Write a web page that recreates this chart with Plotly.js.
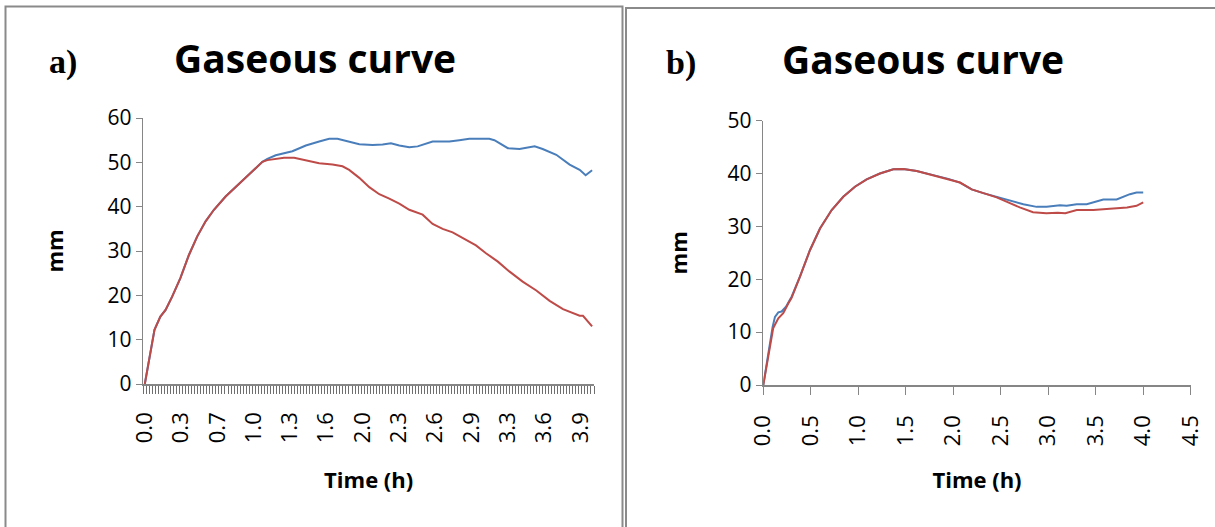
<!DOCTYPE html>
<html>
<head>
<meta charset="utf-8">
<script src="https://cdn.plot.ly/plotly-3.0.1.min.js"></script>
<style>html,body{margin:0;padding:0;background:#fff;}#chart{width:1215px;height:527px;}</style>
</head>
<body>
<div id="chart"></div>
<script>
// ---- Data (a) ----
const timeA_blue = [0, 0.087, 0.14, 0.187, 0.246, 0.32, 0.397, 0.472, 0.547, 0.622, 0.727, 0.818, 0.922, 0.998, 1.058, 1.103, 1.178, 1.328, 1.449, 1.569, 1.659, 1.734, 1.824, 1.93, 2.05, 2.14, 2.215, 2.29, 2.38, 2.455, 2.59, 2.74, 2.83, 2.92, 3.10, 3.146, 3.267, 3.372, 3.508, 3.58, 3.703, 3.823, 3.913, 3.967, 4.025];
const mmA_blue   = [0, 12.2, 15.2, 16.7, 19.7, 23.9, 29.1, 33.3, 36.7, 39.3, 42.3, 44.4, 46.8, 48.7, 50.1, 50.8, 51.6, 52.5, 53.8, 54.7, 55.3, 55.3, 54.7, 54.1, 53.9, 54.0, 54.3, 53.8, 53.4, 53.6, 54.7, 54.7, 55.0, 55.3, 55.3, 55.0, 53.2, 53.0, 53.6, 53.0, 51.7, 49.5, 48.3, 47.1, 48.2];
const timeA_red  = [0, 0.087, 0.14, 0.187, 0.246, 0.32, 0.397, 0.472, 0.547, 0.622, 0.727, 0.818, 0.922, 0.998, 1.058, 1.103, 1.178, 1.253, 1.344, 1.449, 1.569, 1.689, 1.779, 1.839, 1.93, 2.02, 2.11, 2.2, 2.29, 2.38, 2.50, 2.59, 2.68, 2.77, 2.892, 2.98, 3.07, 3.177, 3.28, 3.40, 3.523, 3.643, 3.763, 3.853, 3.913, 3.943, 4.025];
const mmA_red    = [0, 12.2, 15.2, 16.7, 19.7, 23.9, 29.1, 33.3, 36.7, 39.3, 42.3, 44.4, 46.8, 48.7, 50.1, 50.5, 50.75, 51.05, 51.05, 50.5, 49.8, 49.5, 49.1, 48.3, 46.5, 44.4, 42.8, 41.8, 40.7, 39.3, 38.2, 36.1, 35.0, 34.2, 32.5, 31.25, 29.5, 27.6, 25.4, 23.1, 21.1, 18.75, 16.9, 16.1, 15.4, 15.4, 13.0];
const stepA = 0.02722;          // one category (time step, h)
const labelEveryA = 12;          // categories between tick labels

// ---- Data (b) ----
const timeB_blue = [0, 0.053, 0.098, 0.123, 0.158, 0.193, 0.239, 0.298, 0.386, 0.491, 0.597, 0.72, 0.842, 0.965, 1.088, 1.228, 1.369, 1.474, 1.615, 1.79, 1.948, 2.071, 2.194, 2.317, 2.457, 2.597, 2.738, 2.878, 2.983, 3.124, 3.194, 3.3, 3.405, 3.58, 3.72, 3.86, 3.93, 4.0];
const mmB_blue   = [0, 6.0, 11.0, 12.9, 13.75, 13.9, 14.8, 16.7, 20.5, 25.5, 29.6, 33.1, 35.6, 37.5, 38.9, 40.0, 40.8, 40.85, 40.5, 39.7, 39.0, 38.3, 37.0, 36.3, 35.6, 35.0, 34.2, 33.7, 33.7, 34.0, 33.9, 34.2, 34.2, 35.1, 35.1, 36.1, 36.4, 36.4];
const timeB_red  = [0, 0.053, 0.105, 0.158, 0.21, 0.263, 0.298, 0.386, 0.491, 0.597, 0.72, 0.842, 0.965, 1.088, 1.228, 1.369, 1.474, 1.615, 1.79, 1.948, 2.071, 2.194, 2.317, 2.457, 2.56, 2.70, 2.84, 2.98, 3.1, 3.18, 3.3, 3.475, 3.65, 3.83, 3.93, 4.0];
const mmB_red    = [0, 5.7, 10.8, 12.6, 13.6, 15.4, 16.5, 20.5, 25.5, 29.6, 33.1, 35.6, 37.5, 38.9, 40.0, 40.8, 40.85, 40.5, 39.7, 39.0, 38.3, 37.0, 36.3, 35.5, 34.7, 33.6, 32.7, 32.5, 32.6, 32.5, 33.1, 33.1, 33.35, 33.6, 33.9, 34.55];

const panelLabels = ['a)', 'b)'];
const chartTitle = 'Gaseous curve';
const xTitle = 'Time (h)';
const yTitle = 'mm';

// ---- Layout helpers (figure pixel -> paper) ----
const W = 1215, H = 527;
const px = x => x / W;
const py = y => 1 - y / H;

const BLUE = '#4A7EBB', RED = '#BE4B48', AXIS = '#868686';
const FONT = 'Open Sans, sans-serif';

const traces = [
  {x: timeA_blue, y: mmA_blue, xaxis: 'x', yaxis: 'y', mode: 'lines', line: {color: BLUE, width: 2}, hoverinfo: 'x+y'},
  {x: timeA_red,  y: mmA_red,  xaxis: 'x', yaxis: 'y', mode: 'lines', line: {color: RED, width: 2}, hoverinfo: 'x+y'},
  {x: timeB_blue, y: mmB_blue, xaxis: 'x2', yaxis: 'y2', mode: 'lines', line: {color: BLUE, width: 2}, hoverinfo: 'x+y'},
  {x: timeB_red,  y: mmB_red,  xaxis: 'x2', yaxis: 'y2', mode: 'lines', line: {color: RED, width: 2}, hoverinfo: 'x+y'}
];

const nCatA = Math.round(timeA_blue[timeA_blue.length - 1] / stepA) + 1;

const tickFontY = {family: FONT, size: 21, color: '#000'};
const tickFontX = {family: FONT, size: 22, color: '#000'};
const titleFont = {family: FONT, size: 22, color: '#000', weight: 'bold'};

const layout = {
  width: W, height: H,
  margin: {l: 0, r: 0, t: 0, b: 0},
  paper_bgcolor: '#fff', plot_bgcolor: 'rgba(0,0,0,0)',
  showlegend: false,
  xaxis: {
    domain: [px(143.3), px(594)], anchor: 'y',
    range: [-stepA / 2, (nCatA - 0.5) * stepA],
    tickmode: 'linear', tick0: 0, dtick: stepA * labelEveryA, tickformat: '.1f',
    tickangle: -90, ticks: 'outside', ticklen: 8, tickcolor: 'rgba(0,0,0,0)', ticklabelstandoff: 10,
    minor: {ticks: 'outside', tick0: -stepA / 2, dtick: stepA, ticklen: 8, tickcolor: '#6f6f6f', tickwidth: 1},
    showline: true, linecolor: AXIS, linewidth: 1.5, showgrid: false, zeroline: false,
    tickfont: tickFontX, automargin: false,
    title: {text: xTitle, font: titleFont, standoff: 30}
  },
  yaxis: {
    domain: [py(384), py(118)], anchor: 'x',
    range: [0, 60], dtick: 10, ticks: 'outside', ticklen: 6, tickcolor: AXIS,
    showline: true, linecolor: AXIS, linewidth: 1.5, showgrid: false, zeroline: false,
    tickfont: tickFontY, automargin: false,
    title: {text: yTitle, font: titleFont, standoff: 38}
  },
  xaxis2: {
    domain: [px(763.3), px(1190.7)], anchor: 'y2',
    range: [0, 4.5], tickmode: 'linear', tick0: 0, dtick: 0.5, tickformat: '.1f',
    tickangle: -90, ticks: 'outside', ticklen: 8, tickcolor: AXIS, ticklabelstandoff: 12,
    showline: true, linecolor: AXIS, linewidth: 1.5, showgrid: false, zeroline: false,
    tickfont: tickFontX, automargin: false,
    title: {text: xTitle, font: titleFont, standoff: 27}
  },
  yaxis2: {
    domain: [py(385), py(120.7)], anchor: 'x2',
    range: [0, 50], dtick: 10, ticks: 'outside', ticklen: 6, tickcolor: AXIS,
    showline: true, linecolor: AXIS, linewidth: 1.5, showgrid: false, zeroline: false,
    tickfont: tickFontY, automargin: false,
    title: {text: yTitle, font: titleFont, standoff: 34}
  },
  shapes: [
    {type: 'rect', xref: 'paper', yref: 'paper', x0: px(5.5), x1: px(622.5), y0: py(560), y1: py(6.5), line: {color: '#8a8a8a', width: 2}},
    {type: 'rect', xref: 'paper', yref: 'paper', x0: px(626), x1: px(1240), y0: py(560), y1: py(8), line: {color: '#8a8a8a', width: 2}}
  ],
  annotations: [
    {text: panelLabels[0], xref: 'paper', yref: 'paper', x: px(63), y: py(62), xanchor: 'center', yanchor: 'middle', showarrow: false,
     font: {family: 'Liberation Serif, serif', size: 34, color: '#000', weight: 'bold'}},
    {text: chartTitle, xref: 'paper', yref: 'paper', x: px(315), y: py(57), xanchor: 'center', yanchor: 'middle', showarrow: false,
     font: {family: FONT, size: 39, color: '#000', weight: 'bold'}},
    {text: panelLabels[1], xref: 'paper', yref: 'paper', x: px(681), y: py(63), xanchor: 'center', yanchor: 'middle', showarrow: false,
     font: {family: 'Liberation Serif, serif', size: 34, color: '#000', weight: 'bold'}},
    {text: chartTitle, xref: 'paper', yref: 'paper', x: px(923), y: py(59), xanchor: 'center', yanchor: 'middle', showarrow: false,
     font: {family: FONT, size: 39, color: '#000', weight: 'bold'}}
  ]
};

Plotly.newPlot('chart', traces, layout, {displayModeBar: false, staticPlot: true});
</script>
</body>
</html>
